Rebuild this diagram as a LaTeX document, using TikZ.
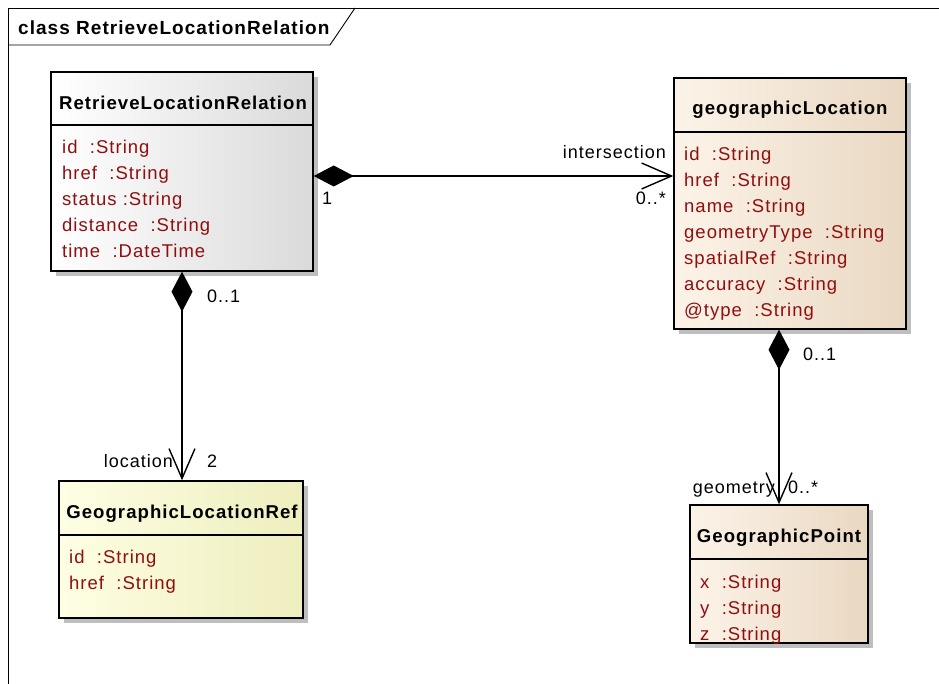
\documentclass[tikz,border=0pt]{standalone}
\usepackage{fontspec}
\setmainfont{Liberation Sans}[LetterSpace=5.5]
\usetikzlibrary{arrows.meta,shadows,calc}

\definecolor{attrred}{RGB}{145,14,14}
\definecolor{greyR}{RGB}{218,218,218}
\definecolor{tanL}{RGB}{252,243,232}
\definecolor{tanR}{RGB}{233,216,194}
\definecolor{ylwL}{RGB}{254,254,228}
\definecolor{ylwR}{RGB}{238,238,190}
\definecolor{shadowgrey}{RGB}{190,190,190}

\tikzset{
  umlclass/.style={draw, line width=1.4pt, inner sep=0pt,
    drop shadow={shadow xshift=5pt, shadow yshift=-5pt, fill=shadowgrey, opacity=1}},
  classname/.style={anchor=base, font=\fontsize{18.6}{22}\selectfont\bfseries},
  attr/.style={anchor=base west, text=attrred, font=\fontsize{18.5}{22}\selectfont, inner sep=0pt},
  rolelbl/.style={font=\fontsize{18}{22}\selectfont, inner sep=0pt},
  sepline/.style={line width=1.4pt},
  assoc/.style={line width=1.4pt,
    {Diamond[length=40pt,width=21pt,fill=black]}-{Straight Barb[length=30pt,width=26pt]}},
  framestyle/.style={line width=0.9pt}
}

\begin{document}
\begin{tikzpicture}[x=1pt,y=-1pt]
\useasboundingbox (0,0) rectangle (939,684);

% diagram frame and its name tab
\draw[framestyle] (8,684) -- (8,8) -- (939,8);
\draw[framestyle] (8,45) -- (330,45) -- (355,8);
\node[anchor=base west, inner sep=0pt, font=\fontsize{19}{22}\selectfont\bfseries] (frametitle) at (18,35) {class RetrieveLocationRelation};

% class boxes
\node[umlclass, minimum width=262pt, minimum height=199pt, left color=white, right color=greyR] (rlr) at (182,171.5) {};
\node[umlclass, minimum width=232pt, minimum height=251pt, left color=tanL, right color=tanR] (gl) at (790,203.5) {};
\node[umlclass, minimum width=244pt, minimum height=137pt, left color=ylwL, right color=ylwR] (glr) at (181,549.5) {};
\node[umlclass, minimum width=178pt, minimum height=138pt, left color=tanL, right color=tanR] (gp) at (779,574) {};

% compartment separators
\draw[sepline] (rlr.west |- 0,125) -- (rlr.east |- 0,125);
\draw[sepline] (gl.west |- 0,132) -- (gl.east |- 0,132);
\draw[sepline] (glr.west |- 0,535) -- (glr.east |- 0,535);
\draw[sepline] (gp.west |- 0,559) -- (gp.east |- 0,559);

% RetrieveLocationRelation
\node[classname] (rlrname) at (183,110) {RetrieveLocationRelation};
\node[attr] (rlr1) at (62,154) {id\ \ :String};
\node[attr] (rlr2) at (62,180) {href\ \ :String};
\node[attr] (rlr3) at (62,206) {status\ :String};
\node[attr] (rlr4) at (62,232) {distance\ \ :String};
\node[attr] (rlr5) at (62,258) {time\ \ :DateTime};

% geographicLocation
\node[classname] (glname) at (790,115) {geographicLocation};
\node[attr] (gl1) at (684,161) {id\ \ :String};
\node[attr] (gl2) at (684,187) {href\ \ :String};
\node[attr] (gl3) at (684,213) {name\ \ :String};
\node[attr] (gl4) at (684,239) {geometryType\ \ :String};
\node[attr] (gl5) at (684,265) {spatialRef\ \ :String};
\node[attr] (gl6) at (684,291) {accuracy\ \ :String};
\node[attr] (gl7) at (684,317) {@type\ \ :String};

% GeographicLocationRef
\node[classname] (glrname) at (182,518) {GeographicLocationRef};
\node[attr] (glr1) at (69,563) {id\ \ :String};
\node[attr] (glr2) at (69,589) {href\ \ :String};

% GeographicPoint
\node[classname] (gpname) at (779,542) {GeographicPoint};
\node[attr] (gp1) at (700,588) {x\ \ :String};
\node[attr] (gp2) at (700,614) {y\ \ :String};
\node[attr] (gp3) at (700,640) {z\ \ :String};

% associations
\coordinate (hline) at (0,176);
\draw[assoc] (rlr.east |- hline) -- (gl.west |- hline);
\draw[assoc] (rlr.south) -- (glr.north -| rlr.south);
\draw[assoc] (gl.south -| gp.north) -- (gp.north);

% role names and multiplicities
\node[rolelbl, anchor=base east] (l-inter) at (666,159) {intersection};
\node[rolelbl, anchor=base east] (l-interm) at (666,205) {0..*};
\node[rolelbl, anchor=base west] (l-one) at (322,205) {1};
\node[rolelbl, anchor=base west] (l-rlrm) at (207,303) {0..1};
\node[rolelbl, anchor=base east] (l-loc) at (173,467) {location};
\node[rolelbl, anchor=base west] (l-locm) at (207,467) {2};
\node[rolelbl, anchor=base west] (l-glm) at (803,360) {0..1};
\node[rolelbl, anchor=base east] (l-geo) at (775,493) {geometry};
\node[rolelbl, anchor=base west] (l-geom) at (788,493) {0..*};
\end{tikzpicture}
\end{document}
